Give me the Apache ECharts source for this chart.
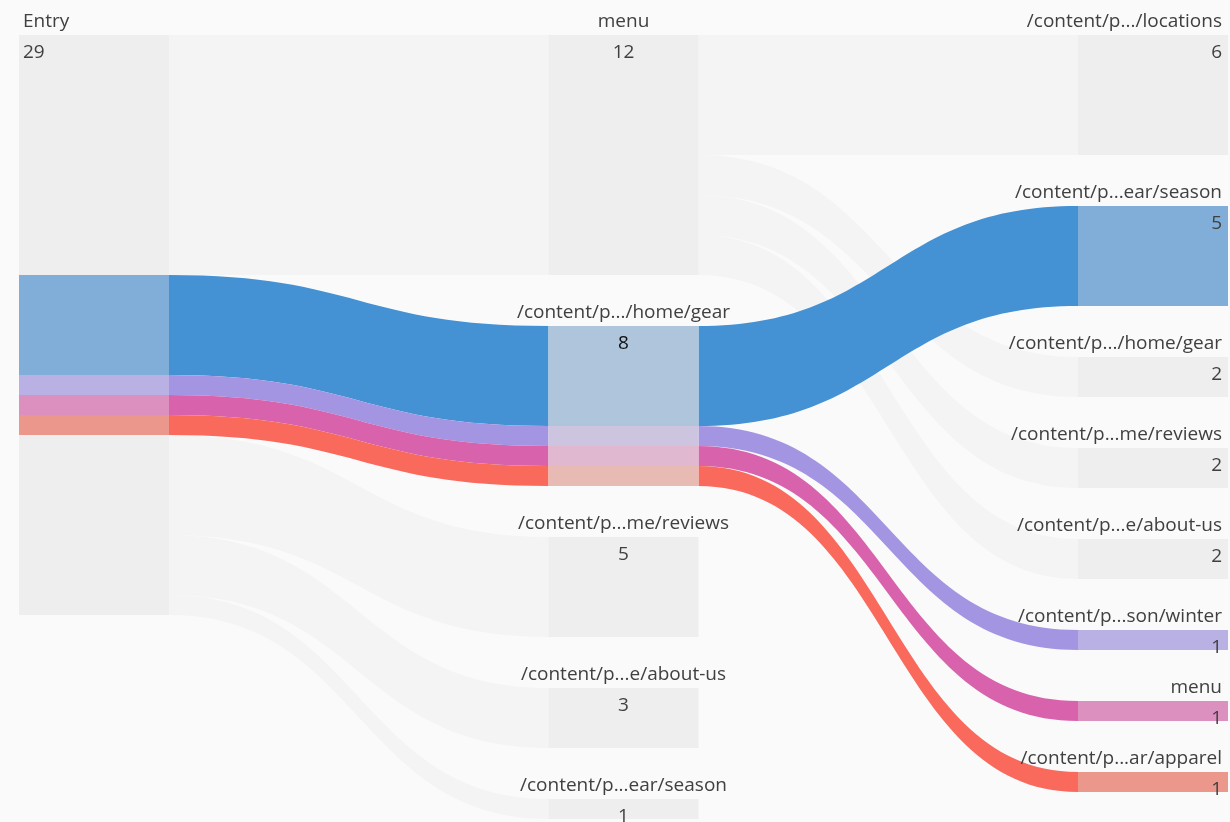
<!DOCTYPE html>
<html>
<head>
<meta charset="utf-8">
<script src="https://cdn.jsdelivr.net/npm/echarts@6/dist/echarts.min.js"></script>
<style>
  html, body { margin: 0; padding: 0; background: #fafafa; }
  #chart { width: 1230px; height: 822px; }
</style>
</head>
<body>
<div id="chart"></div>
<script>
// ---- data ----
const entryName = 'Entry';
const entryValue = 29;

const midNames = ['menu', '/content/p.../home/gear', '/content/p...me/reviews', '/content/p...e/about-us', '/content/p...ear/season'];
const midValues = [12, 8, 5, 3, 1];

const rightNames = ['/content/p.../locations', '/content/p...ear/season', '/content/p.../home/gear', '/content/p...me/reviews',
                    '/content/p...e/about-us', '/content/p...son/winter', 'menu', '/content/p...ar/apparel'];
const rightValues = [6, 5, 2, 2, 2, 1, 1, 1];

// flows from middle "menu" to the right column
const menuToRight = [6, 0, 2, 2, 2, 0, 0, 0];
// highlighted paths: Entry -> home/gear -> right column
const gearToRight = [0, 5, 0, 0, 0, 1, 1, 1];

const MENU_IDX = 0;
const GEAR_IDX = 1;

// ---- styles ----
const GRAY_NODE = '#eeeeee';
const GRAY_LINK = '#f4f4f4';
const TEXT = '#404040';
const FONT = 'Open Sans';
const FS = 19;
// colour of each highlighted path, keyed by right-column index
const pathStyle = {
  1: { link: '#4491d3', node: '#80aed8', mid: '#aec5db' },
  5: { link: '#a495e3', node: '#b9b0e3', mid: '#cdc5df' },
  6: { link: '#d962ad', node: '#dc90bf', mid: '#e0b8cf' },
  7: { link: '#f96a5d', node: '#ec978c', mid: '#e7bab4' }
};

function stripes(segs) {
  const total = segs.reduce((s, x) => s + x.v, 0);
  const stops = [];
  let acc = 0;
  segs.forEach(s => {
    stops.push({ offset: acc / total, color: s.color });
    acc += s.v;
    stops.push({ offset: acc / total, color: s.color });
  });
  return { type: 'linear', x: 0, y: 0, x2: 0, y2: 1, colorStops: stops };
}

const baseLabel = {
  show: true,
  color: TEXT,
  fontFamily: FONT,
  fontSize: FS,
  lineHeight: 31,
  distance: 4,
  rich: {
    n: { color: TEXT, fontFamily: FONT, fontSize: FS, lineHeight: 31 },
    v: { color: TEXT, fontFamily: FONT, fontSize: FS, lineHeight: 31 },
    vs: { color: '#111111', fontFamily: FONT, fontSize: FS, lineHeight: 31 }
  }
};
function lbl(name, value, pos, align, dx, selected) {
  return Object.assign({}, baseLabel, {
    position: pos,
    align: align,
    offset: [dx, -32.5],
    formatter: '{n|' + name + '}\n{' + (selected ? 'vs' : 'v') + '|' + value + '}'
  });
}

// ---- nodes ----
const nodes = [];
const entrySegs = [];
midValues.forEach((v, i) => {
  if (i === GEAR_IDX) {
    gearToRight.forEach((g, j) => { if (g > 0) entrySegs.push({ v: g, color: pathStyle[j].node }); });
  } else {
    entrySegs.push({ v: v, color: GRAY_NODE });
  }
});
nodes.push({
  id: 'e', name: entryName, value: entryValue, depth: 0,
  itemStyle: { color: stripes(entrySegs) },
  label: lbl(entryName, entryValue, 'insideTopLeft', 'left', 0, false)
});
midNames.forEach((n, i) => {
  let color = GRAY_NODE;
  if (i === GEAR_IDX) {
    const segs = [];
    gearToRight.forEach((g, j) => { if (g > 0) segs.push({ v: g, color: pathStyle[j].mid }); });
    color = stripes(segs);
  }
  nodes.push({
    id: 'm' + i, name: n, value: midValues[i], depth: 1,
    itemStyle: { color: color },
    label: lbl(n, midValues[i], 'insideTop', 'center', 0, i === GEAR_IDX)
  });
});
rightNames.forEach((n, j) => {
  nodes.push({
    id: 'r' + j, name: n, value: rightValues[j], depth: 2,
    itemStyle: { color: gearToRight[j] > 0 ? pathStyle[j].node : GRAY_NODE },
    label: lbl(n, rightValues[j], 'insideTopRight', 'right', -2, false)
  });
});

// ---- links (gray first, highlighted on top) ----
const links = [];
midValues.forEach((v, i) => {
  if (i !== GEAR_IDX) links.push({ source: 'e', target: 'm' + i, value: v, lineStyle: { color: GRAY_LINK, opacity: 1 } });
});
menuToRight.forEach((v, j) => {
  if (v > 0) links.push({ source: 'm' + MENU_IDX, target: 'r' + j, value: v, lineStyle: { color: GRAY_LINK, opacity: 1 } });
});
gearToRight.forEach((v, j) => {
  if (v > 0) links.push({ source: 'e', target: 'm' + GEAR_IDX, value: v, lineStyle: { color: pathStyle[j].link, opacity: 1 } });
});
gearToRight.forEach((v, j) => {
  if (v > 0) links.push({ source: 'm' + GEAR_IDX, target: 'r' + j, value: v, lineStyle: { color: pathStyle[j].link, opacity: 1 } });
});

const chart = echarts.init(document.getElementById('chart'), null, { renderer: 'canvas' });
chart.setOption({
  backgroundColor: '#fafafa',
  animation: false,
  tooltip: { show: false },
  series: [{
    type: 'sankey',
    left: 19, right: 2, top: 35, bottom: 3,
    nodeWidth: 150,
    nodeGap: 51,
    nodeAlign: 'left',
    layoutIterations: 0,
    draggable: false,
    emphasis: { disabled: true },
    itemStyle: { borderWidth: 0 },
    lineStyle: { curveness: 0.5, opacity: 1 },
    data: nodes,
    links: links
  }]
});
</script>
</body>
</html>
